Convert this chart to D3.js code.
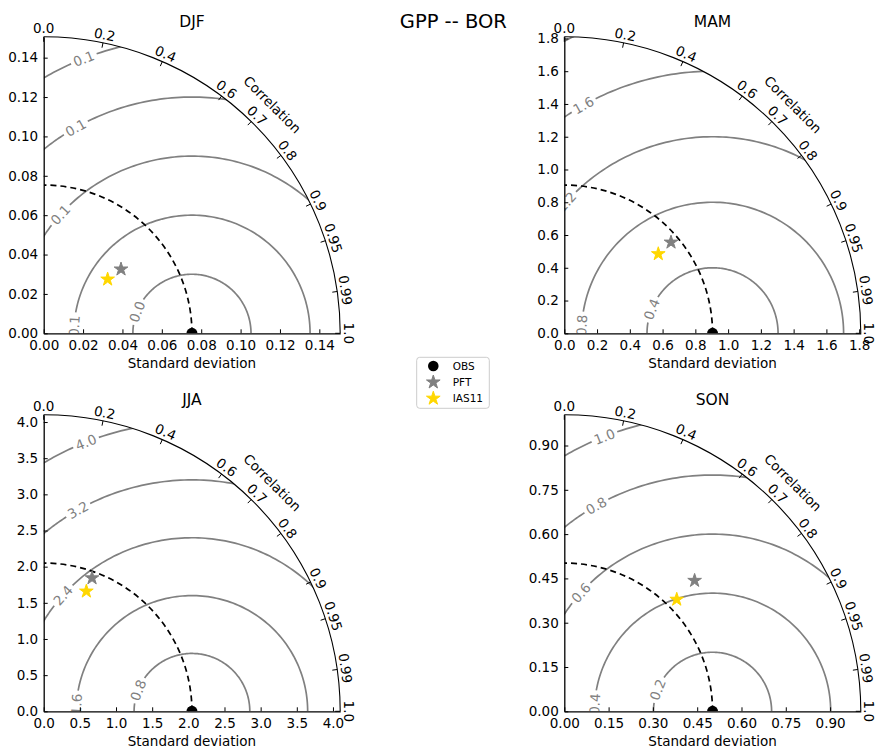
<!DOCTYPE html>
<html>
<head>
<meta charset="utf-8">
<script src="https://cdn.jsdelivr.net/npm/d3@7"></script>
<style>
body { margin: 0; background: #fff; }
text { font-family: "DejaVu Sans", sans-serif; }
</style>
</head>
<body>
<div id="chart"></div>
<script>
// data
var seasons = ["DJF", "MAM", "JJA", "SON"];
var obsStd  = [0.0753, 0.905, 2.05, 0.502];
var pftStd  = [0.0510, 0.856, 1.960, 0.625];
var pftCorr = [0.770, 0.761, 0.341, 0.706];
var iasStd  = [0.0425, 0.751, 1.761, 0.537];
var iasCorr = [0.764, 0.764, 0.335, 0.709];

var rmsLevels = [
  [0.03, 0.06, 0.09, 0.12, 0.15],
  [0.4, 0.8, 1.2, 1.6, 2.0],
  [0.8, 1.6, 2.4, 3.2, 4.0],
  [0.2, 0.4, 0.6, 0.8, 1.0]
];
var rmsLabels = [
  ["0.0", "0.1", "0.1", "0.1", "0.1"],
  ["0.4", "0.8", "1.2", "1.6", ""],
  ["0.8", "1.6", "2.4", "3.2", "4.0"],
  ["0.2", "0.4", "0.6", "0.8", "1.0"]
];
var stdTicks = [
  [0, 0.02, 0.04, 0.06, 0.08, 0.10, 0.12, 0.14],
  [0, 0.2, 0.4, 0.6, 0.8, 1.0, 1.2, 1.4, 1.6, 1.8],
  [0, 0.5, 1.0, 1.5, 2.0, 2.5, 3.0, 3.5, 4.0],
  [0, 0.15, 0.30, 0.45, 0.60, 0.75, 0.90]
];
var stdFormat = [".2f", ".1f", ".1f", ".2f"];
var corrTicks = [0, 0.2, 0.4, 0.6, 0.7, 0.8, 0.9, 0.95, 0.99, 1.0];
var legendNames = ["OBS", "PFT", "IAS11"];

var W = 877, H = 749, R = 296.5;
var origins = [[43.7, 333.3], [564.3, 333.3], [43.7, 711.3], [564.3, 711.3]];
// angle (deg) on each rms circle where the inline label sits
var labelAngles = [158.5, 176.5, 138, 119.5, 111.5];
var grey = "#808080", gold = "#FFD700";
var fs = "13.5px";

var svg = d3.select("#chart").append("svg")
  .attr("width", W)
  .attr("height", H);

svg.append("text")
  .attr("x", 453.3).attr("y", 28)
  .attr("text-anchor", "middle")
  .style("font-size", "19.5px")
  .text("GPP -- BOR");

var star = d3.symbol().type(d3.symbolStar).size(58);

function pt(r, s, c) {
  var t = Math.acos(c);
  return [r(s) * Math.cos(t), -r(s) * Math.sin(t)];
}

seasons.forEach(function(name, i) {
  var smax = 2 * obsStd[i];
  var r = d3.scaleLinear().domain([0, smax]).range([0, R]);
  var yS = d3.scaleLinear().domain([0, smax]).range([0, -R]);

  var g = svg.append("g")
    .attr("transform", "translate(" + origins[i][0] + "," + origins[i][1] + ")");

  g.append("clipPath").attr("id", "clip" + i)
    .append("path")
    .attr("d", "M0,0L" + R + ",0A" + R + "," + R + " 0 0 0 0," + (-R) + "Z");

  var inner = g.append("g").attr("clip-path", "url(#clip" + i + ")");

  // rms circles around the obs point
  var cx = r(obsStd[i]);
  rmsLevels[i].forEach(function(lev, j) {
    var rr = r(lev);
    var lab = rmsLabels[i][j];
    var phi = labelAngles[j] * Math.PI / 180;
    var gap = 0;
    if (lab) {
      var t = inner.append("text")
        .attr("transform", "translate(" + (cx + rr * Math.cos(phi)) + "," + (-rr * Math.sin(phi)) + ") rotate(" + (90 - labelAngles[j]) + ")")
        .attr("text-anchor", "middle")
        .attr("dominant-baseline", "central")
        .attr("fill", grey)
        .style("font-size", fs)
        .text(lab);
      gap = (t.node().getComputedTextLength() / 2 + 3) / rr;
    }
    var segs = lab ? [[0, phi - gap], [phi + gap, Math.PI]] : [[0, Math.PI]];
    segs.forEach(function(sg) {
      var pts = d3.range(0, 121).map(function(k) {
        var a = sg[0] + (sg[1] - sg[0]) * k / 120;
        return [cx + rr * Math.cos(a), -rr * Math.sin(a)];
      });
      inner.append("path")
        .attr("d", d3.line()(pts))
        .attr("fill", "none")
        .attr("stroke", grey)
        .attr("stroke-width", 1.7);
    });
  });

  // reference std circle
  inner.append("path")
    .attr("d", "M" + cx + ",0A" + cx + "," + cx + " 0 0 0 0," + (-cx))
    .attr("fill", "none")
    .attr("stroke", "#000")
    .attr("stroke-width", 1.7)
    .attr("stroke-dasharray", "6,4");

  // outer arc
  g.append("path")
    .attr("d", "M" + R + ",0A" + R + "," + R + " 0 0 0 0," + (-R))
    .attr("fill", "none")
    .attr("stroke", "#000")
    .attr("stroke-width", 1.1);

  // std axes
  var xAx = g.append("g")
    .call(d3.axisBottom(r).tickValues(stdTicks[i]).tickFormat(d3.format(stdFormat[i]))
      .tickSizeInner(-4).tickSizeOuter(0).tickPadding(7.5));
  var yAx = g.append("g")
    .call(d3.axisLeft(yS).tickValues(stdTicks[i]).tickFormat(d3.format(stdFormat[i]))
      .tickSizeInner(-4).tickSizeOuter(0).tickPadding(5.5));
  [xAx, yAx].forEach(function(a) {
    a.attr("font-family", null).attr("font-size", null);
    a.selectAll("text").style("font-size", fs);
    a.select(".domain").attr("stroke-width", 1.3);
  });

  // correlation ticks and labels
  corrTicks.forEach(function(c) {
    var t = Math.acos(c);
    g.append("line")
      .attr("x1", R * Math.cos(t)).attr("y1", -R * Math.sin(t))
      .attr("x2", (R - 5) * Math.cos(t)).attr("y2", -(R - 5) * Math.sin(t))
      .attr("stroke", "#000");
    g.append("text")
      .attr("transform", "translate(" + ((R + 8.5) * Math.cos(t)) + "," + (-(R + 8.5) * Math.sin(t)) + ") rotate(" + (90 - t * 180 / Math.PI) + ")")
      .attr("text-anchor", "middle")
      .attr("dominant-baseline", "central")
      .style("font-size", fs)
      .text(Math.round(c * 10) === c * 10 ? c.toFixed(1) : c.toFixed(2));
  });

  g.append("text")
    .attr("transform", "translate(" + ((R + 27) * Math.cos(Math.PI / 4)) + "," + (-(R + 27) * Math.sin(Math.PI / 4)) + ") rotate(45)")
    .attr("text-anchor", "middle")
    .attr("dominant-baseline", "central")
    .style("font-size", fs)
    .text("Correlation");

  g.append("text")
    .attr("x", R / 2).attr("y", 35)
    .attr("text-anchor", "middle")
    .style("font-size", fs)
    .text("Standard deviation");

  g.append("text")
    .attr("x", R / 2).attr("y", -R - 9.5)
    .attr("text-anchor", "middle")
    .style("font-size", "15.5px")
    .text(name);

  // points
  inner.append("circle")
    .attr("cx", cx).attr("cy", 0).attr("r", 5.5)
    .attr("fill", "#000");
  var p1 = pt(r, pftStd[i], pftCorr[i]);
  inner.append("path").attr("d", star)
    .attr("transform", "translate(" + p1[0] + "," + p1[1] + ")")
    .attr("fill", grey).attr("stroke", grey).attr("stroke-width", 1);
  var p2 = pt(r, iasStd[i], iasCorr[i]);
  inner.append("path").attr("d", star)
    .attr("transform", "translate(" + p2[0] + "," + p2[1] + ")")
    .attr("fill", gold).attr("stroke", gold).attr("stroke-width", 1);
});

// legend
var leg = svg.append("g").attr("transform", "translate(416.7,357.3)");
leg.append("rect")
  .attr("width", 72.6).attr("height", 51)
  .attr("rx", 3)
  .attr("fill", "#fff")
  .attr("stroke", "#cccccc");
var legColors = ["#000", grey, gold];
legendNames.forEach(function(n, k) {
  var y = 8.7 + k * 16.2;
  if (k === 0) {
    leg.append("circle").attr("cx", 16.6).attr("cy", y).attr("r", 5.3).attr("fill", legColors[k]);
  } else {
    leg.append("path").attr("d", star)
      .attr("transform", "translate(16.6," + y + ")")
      .attr("fill", legColors[k]).attr("stroke", legColors[k]).attr("stroke-width", 1);
  }
  leg.append("text")
    .attr("x", 36).attr("y", y)
    .attr("dominant-baseline", "central")
    .style("font-size", "10.5px")
    .text(n);
});
</script>
</body>
</html>
